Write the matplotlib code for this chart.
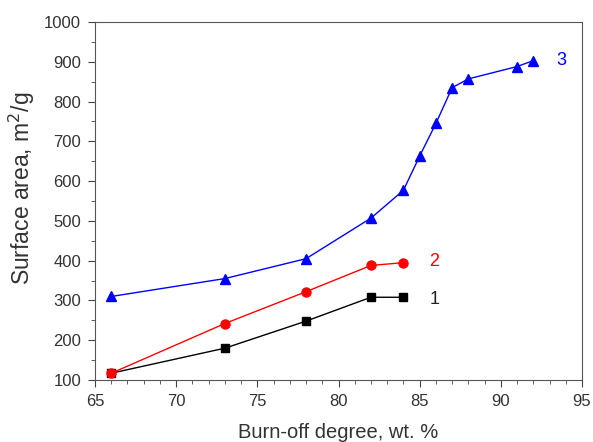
import matplotlib
matplotlib.use("Agg")
import matplotlib.pyplot as plt
from matplotlib.ticker import MultipleLocator

plt.rcParams["font.family"] = ["Liberation Sans", "DejaVu Sans"]

x1 = [66, 73, 78, 82, 84]
y1 = [117, 180, 248, 308, 308]
x2 = [66, 73, 78, 82, 84]
y2 = [117, 242, 322, 388, 395]
x3 = [66, 73, 78, 82, 84, 85, 86, 87, 88, 91, 92]
y3 = [310, 355, 405, 507, 577, 663, 745, 835, 857, 888, 903]

fig = plt.figure(figsize=(5.93, 4.42), dpi=100)
ax = fig.add_axes([95 / 593, 1 - 380 / 442, 487 / 593, 358 / 442])

ax.plot(x1, y1, color="black", marker="s", markersize=5.5, linewidth=1)
ax.plot(x2, y2, color="red", marker="o", markersize=6.5, linewidth=1)
ax.plot(x3, y3, color="blue", marker="^", markersize=7, linewidth=1)

ax.text(85.6, 302, "1", color="#222222", fontsize=13, va="center")
ax.text(85.6, 397, "2", color="red", fontsize=13, va="center")
ax.text(93.4, 904, "3", color="blue", fontsize=13, va="center")

ax.set_xlim(65, 95)
ax.set_ylim(100, 1000)
ax.xaxis.set_major_locator(MultipleLocator(5))
ax.xaxis.set_minor_locator(MultipleLocator(1))
ax.yaxis.set_major_locator(MultipleLocator(100))
ax.yaxis.set_minor_locator(MultipleLocator(50))
ax.tick_params(which="both", direction="out", colors="#444444", labelsize=12,
               labelcolor="#333333")
ax.tick_params(which="major", length=5, pad=5)
ax.tick_params(which="minor", length=3)
for s in ax.spines.values():
    s.set_color("#555555")

ax.set_xlabel("Burn-off degree, wt. %", fontsize=14.5, color="#333333", labelpad=10)
ax.set_ylabel("Surface area, m$^2$/g", fontsize=16.5, color="#333333")
ax.yaxis.set_label_coords(-0.12, 0.535)

fig.savefig("out.png", dpi=100)
